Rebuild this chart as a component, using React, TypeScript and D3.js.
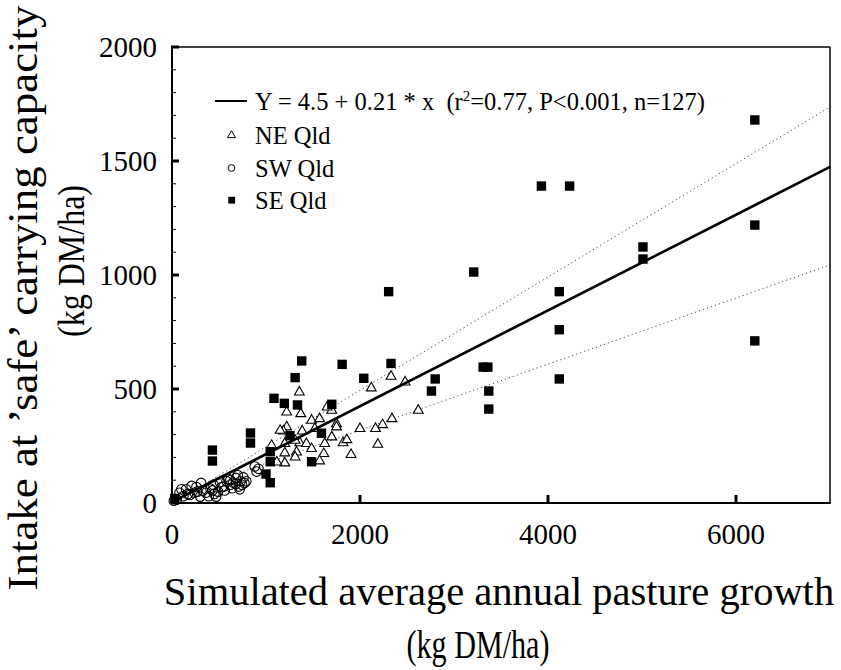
import React from "react";
import * as d3 from "d3";

// ---- data ----
const xTicks = [0, 2000, 4000, 6000];
const yTicks = [0, 500, 1000, 1500, 2000];
const yMinorTicks = d3.range(0, 2001, 100);

// regression: Y = 4.5 + 0.21 * x ; dotted bands (upper, lower) as [intercept, slope]
const regression = [4.5, 0.21];
const upperBand = [-3, 0.2486];
const lowerBand = [29, 0.145];

// NE Qld (open triangles)
const neQld: [number, number][] = [
  [1355, 488], [2330, 557], [2120, 506], [2480, 532], [1220, 400], [1370, 393],
  [1700, 408], [1650, 422], [1485, 364], [1570, 371], [1750, 349], [2620, 408],
  [2340, 371], [2240, 345], [2165, 328], [2000, 328], [1220, 335], [1185, 317],
  [1385, 317], [1520, 328], [1700, 291], [1750, 335], [1060, 254], [1200, 262],
  [1360, 265], [1430, 262], [1485, 240], [1325, 225], [1200, 221], [1310, 203],
  [1625, 262], [1615, 218], [1820, 265], [1860, 279], [1905, 214], [2190, 259],
  [1200, 177], [1570, 186], [1115, 181], [1150, 320], [1310, 276],
];

// SW Qld (open circles)
const swQld: [number, number][] = [
  [20, 10], [50, 15], [80, 45], [100, 60], [120, 30], [150, 60], [170, 40],
  [190, 35], [210, 75], [240, 45], [260, 70], [270, 50], [300, 28], [310, 88],
  [330, 55], [360, 45], [390, 30], [410, 62], [430, 55], [440, 80], [450, 40],
  [470, 28], [490, 50], [510, 92], [530, 70], [550, 72], [560, 55], [580, 95],
  [600, 105], [620, 80], [640, 65], [650, 90], [680, 110], [680, 85], [700, 122],
  [710, 72], [720, 60], [730, 95], [745, 80], [760, 112], [770, 88], [790, 95],
  [880, 160], [900, 138], [920, 150], [620, 100],
];

// SE Qld (filled squares)
const seQld: [number, number][] = [
  [30, 20], [430, 232], [430, 184], [835, 307], [835, 263], [1045, 225],
  [1045, 181], [1000, 127], [1045, 89], [1085, 459], [1195, 437], [1310, 550],
  [1380, 623], [1335, 430], [1255, 295], [1485, 181], [1590, 306], [1700, 433],
  [1810, 608], [2040, 547], [2330, 612], [2305, 927], [3310, 596], [3360, 596],
  [2800, 544], [2760, 491], [3370, 491], [3370, 412], [4120, 760], [4120, 544],
  [4120, 927], [6200, 1680], [4230, 1390], [3930, 1390], [5010, 1123],
  [5010, 1070], [6200, 1219], [6200, 711], [3210, 1013],
];

const legendLabels = ["NE Qld", "SW Qld", "SE Qld"];
const xTitle = ["Simulated average annual pasture growth", "(kg DM/ha)"];
const yTitle = ["Intake at \u2019safe\u2019 carrying capacity", "(kg DM/ha)"];

const FONT = "Liberation Serif, DejaVu Serif, Times New Roman, serif";
const ts = { fontFamily: FONT };

function Triangle({ x, y, s, w = 1.1 }: { x: number; y: number; s: number; w?: number }) {
  const h = s * 0.87;
  const pts = `${x},${y - h * 0.62} ${x + s / 2},${y + h * 0.38} ${x - s / 2},${y + h * 0.38}`;
  return <polygon points={pts} fill="white" stroke="black" strokeWidth={w} />;
}

export default function App() {
  const W = 841;
  const H = 670;
  const x = d3.scaleLinear().domain([0, 7000]).range([172, 830]);
  const y = d3.scaleLinear().domain([0, 2000]).range([503, 47]);
  const [x0, x1] = x.range();
  const [y0, y1] = y.range();

  const lineGen = (b: number[], from: number) =>
    d3
      .line<number>()
      .x((v) => x(v))
      .y((v) => y(b[0] + b[1] * v))([from, 7000]) as string;

  return (
    <svg
      width={W}
      height={H}
      style={{ position: "absolute", left: 0, top: 0, background: "white", fontFamily: FONT }}
    >
      <rect width={W} height={H} fill="white" />

      {/* dotted bands */}
      <path d={lineGen(upperBand, 40)} fill="none" stroke="#444" strokeWidth={1} strokeDasharray="1.2,3" />
      <path d={lineGen(lowerBand, 0)} fill="none" stroke="#444" strokeWidth={1} strokeDasharray="1.2,3" />

      {/* data */}
      {swQld.map((d, i) => (
        <circle key={"c" + i} cx={x(d[0])} cy={y(d[1])} r={4.8} fill="none" stroke="black" strokeWidth={1.1} />
      ))}
      {neQld.map((d, i) => (
        <Triangle key={"t" + i} x={x(d[0])} y={y(d[1])} s={9.8} />
      ))}
      {seQld.map((d, i) => (
        <rect key={"s" + i} x={x(d[0]) - 4.7} y={y(d[1]) - 4.7} width={9.4} height={9.4} fill="black" />
      ))}

      {/* regression line */}
      <path d={lineGen(regression, 0)} fill="none" stroke="black" strokeWidth={2.6} />

      {/* frame */}
      <line x1={x0} x2={x1} y1={y1} y2={y1} stroke="black" strokeWidth={1.5} />
      <line x1={x1} x2={x1} y1={y1} y2={y0} stroke="black" strokeWidth={1.5} />
      <line x1={x0} x2={x1 + 0.75} y1={y0} y2={y0} stroke="black" strokeWidth={2} />
      <line x1={x0} x2={x0} y1={y1 - 1} y2={y0 + 1} stroke="black" strokeWidth={2} />

      {/* y minor ticks */}
      {yMinorTicks.map((t) => (
        <line key={"ym" + t} x1={x0} x2={x0 + 4} y1={y(t)} y2={y(t)} stroke="black" strokeWidth={1} />
      ))}
      {/* y major ticks + labels */}
      {yTicks.map((t) => (
        <g key={"y" + t}>
          <line x1={x0 - 1} x2={x0 + 7} y1={y(t)} y2={y(t)} stroke="black" strokeWidth={3} />
          <text x={157} y={y(t)} dy="0.35em" textAnchor="end" fontSize={29} style={ts}>
            {t}
          </text>
        </g>
      ))}
      {/* x major ticks + labels */}
      {xTicks.map((t) => (
        <g key={"x" + t}>
          {t > 0 && <line x1={x(t)} x2={x(t)} y1={y0} y2={y0 - 8} stroke="black" strokeWidth={3} />}
          <text x={x(t)} y={544} textAnchor="middle" fontSize={29} style={ts}>
            {t}
          </text>
        </g>
      ))}

      {/* legend */}
      <line x1={215} x2={247} y1={101} y2={101} stroke="black" strokeWidth={2} />
      <text x={255} y={101} dy="0.35em" fontSize={24.5} style={{ ...ts, whiteSpace: "pre" }}>
        {"Y = 4.5 + 0.21 * x  (r"}
        <tspan fontSize={15} dy={-9}>2</tspan>
        <tspan dy={9}>{"=0.77, P<0.001, n=127)"}</tspan>
      </text>
      <Triangle x={231.5} y={135} s={8} w={1} />
      <circle cx={231.5} cy={168} r={3.4} fill="none" stroke="black" strokeWidth={1} />
      <rect x={228.3} y={196.8} width={6.8} height={6.8} fill="black" />
      {legendLabels.map((l, i) => (
        <text key={l} x={255} y={[135, 168, 200][i]} dy="0.35em" fontSize={24.5} style={ts}>
          {l}
        </text>
      ))}

      {/* axis titles */}
      <text x={499} y={605} textAnchor="middle" fontSize={40.5} style={ts}>
        {xTitle[0]}
      </text>
      <text
        x={478}
        y={658}
        textAnchor="middle"
        fontSize={40}
        textLength={143}
        lengthAdjust="spacingAndGlyphs"
        style={ts}
      >
        {xTitle[1]}
      </text>
      <text
        transform="translate(37,298) rotate(-90)"
        textAnchor="middle"
        fontSize={42}
        textLength={585}
        lengthAdjust="spacingAndGlyphs"
        style={ts}
      >
        {yTitle[0]}
      </text>
      <text
        transform="translate(84,261) rotate(-90)"
        textAnchor="middle"
        fontSize={38}
        textLength={152}
        lengthAdjust="spacingAndGlyphs"
        style={ts}
      >
        {yTitle[1]}
      </text>
    </svg>
  );
}
